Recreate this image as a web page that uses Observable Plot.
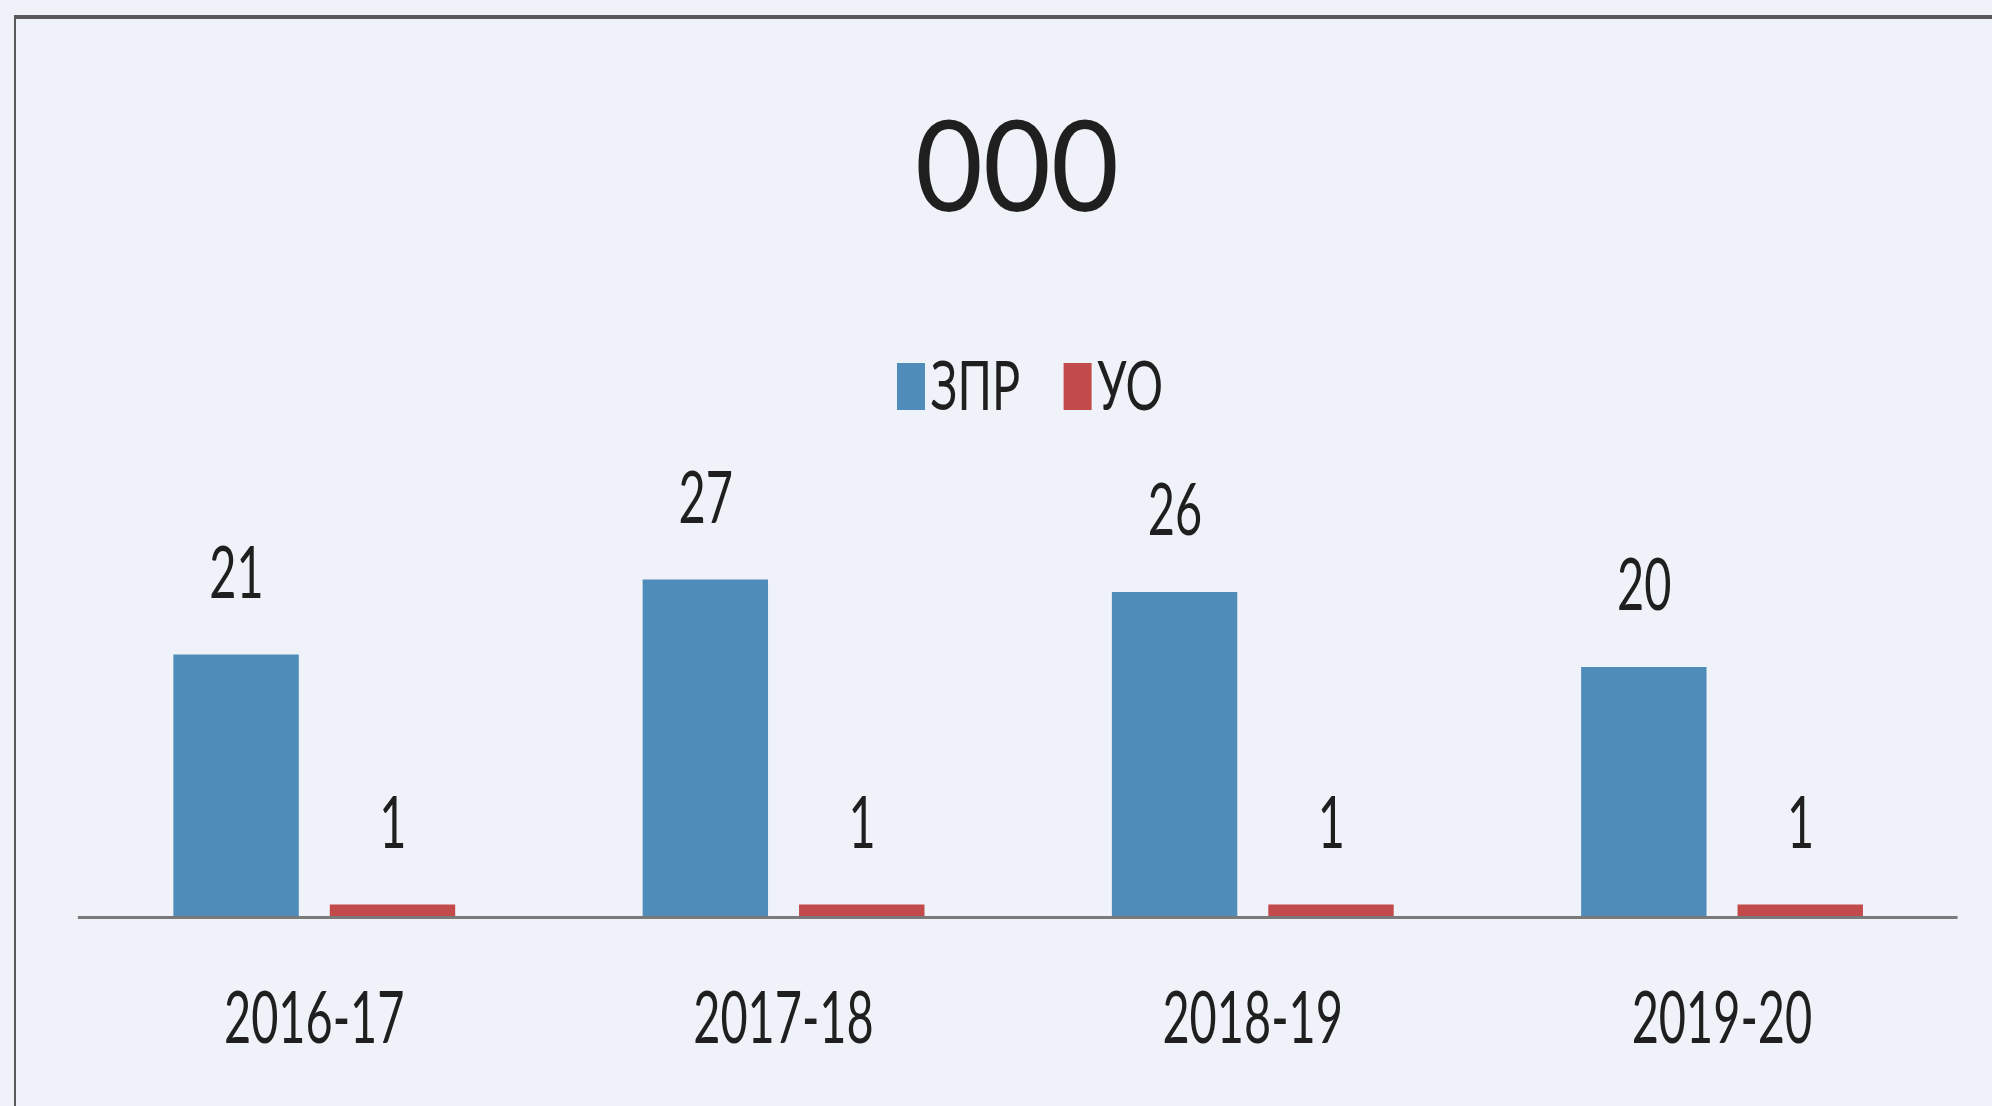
<!DOCTYPE html>
<html><head><meta charset="utf-8">
<script src="https://cdn.jsdelivr.net/npm/d3@7"></script>
<script src="https://cdn.jsdelivr.net/npm/@observablehq/plot@0.6"></script>
<style>
html,body{margin:0;padding:0;}
body{width:1992px;height:1106px;background:#eff3f9;position:relative;overflow:hidden;font-family:Lato,"Open Sans",sans-serif;color:#1f1f1f;}
#frame{position:absolute;left:14px;top:15px;width:2100px;height:1200px;border-top:4px solid #5a5a5a;border-left:2px solid #5a5a5a;box-sizing:border-box;}
#title{position:absolute;left:517px;width:1000px;top:100px;text-align:center;font-size:126px;line-height:126px;transform:scaleX(0.93);transform-origin:50% 0;white-space:nowrap;}
#legend{position:absolute;left:530px;width:1000px;top:351px;text-align:center;font-size:67px;line-height:67px;transform:scaleX(0.70);transform-origin:50% 0;white-space:nowrap;}
#legend .sw{display:inline-block;width:40px;height:47px;margin-right:8px;vertical-align:baseline;}
#legend .item{display:inline-block;}
#legend .item + .item{margin-left:62px;}
#chart{position:absolute;left:0;top:440px;transform-origin:0 0;}
</style>
</head><body>
<div id="frame"></div>
<div id="title"></div>
<div id="legend"></div>
<div id="chart"></div>
<script>
const titleText = "000";
const years = ["2016-17", "2017-18", "2018-19", "2019-20"];
const seriesNames = ["ЗПР", "УО"];
const zprValues = [21, 27, 26, 20];
const uoValues = [1, 1, 1, 1];
const seriesColors = ["#4f8cba", "#c24a4a"];

document.getElementById("title").textContent = titleText;

const legend = document.getElementById("legend");
seriesNames.forEach((s, i) => {
  const item = document.createElement("span");
  item.className = "item";
  const sw = document.createElement("span");
  sw.className = "sw";
  sw.style.background = seriesColors[i];
  item.appendChild(sw);
  item.appendChild(document.createTextNode(s));
  legend.appendChild(item);
});

const data = years.flatMap((y, i) => [
  {year: y, series: seriesNames[0], value: zprValues[i]},
  {year: y, series: seriesNames[1], value: uoValues[i]}
]);

const K = 0.66;
const W = 1992 / K;
const holder = document.getElementById("chart");
holder.style.width = W + "px";
holder.style.transform = `scaleX(${K})`;

const chart = Plot.plot({
  width: W,
  height: 617,
  marginLeft: 78.75 / K,
  marginRight: (1992 - 1956.75) / K,
  marginTop: 102,
  marginBottom: 140,
  style: {background: "transparent", fontFamily: "Lato, sans-serif", fontSize: "71px", color: "#1f1f1f", maxWidth: "none", overflow: "visible"},
  fx: {domain: years, padding: 0, axis: "bottom", tickSize: 0, tickPadding: 75, label: null},
  x: {domain: seriesNames, paddingInner: 0.2, paddingOuter: 0.6, axis: null},
  y: {domain: [0, 30], axis: null},
  color: {domain: seriesNames, range: seriesColors},
  marks: [
    Plot.barY(data, {fx: "year", x: "series", y: "value", fill: "series"}),
    Plot.text(data, {fx: "year", x: "series", y: "value", text: d => String(d.value), dy: -80, fill: "#1f1f1f"}),
    Plot.ruleY([0], {stroke: "#7a7a7a", strokeWidth: 3, insetLeft: -2, insetRight: -2})
  ]
});
holder.appendChild(chart);
</script>
</body></html>
